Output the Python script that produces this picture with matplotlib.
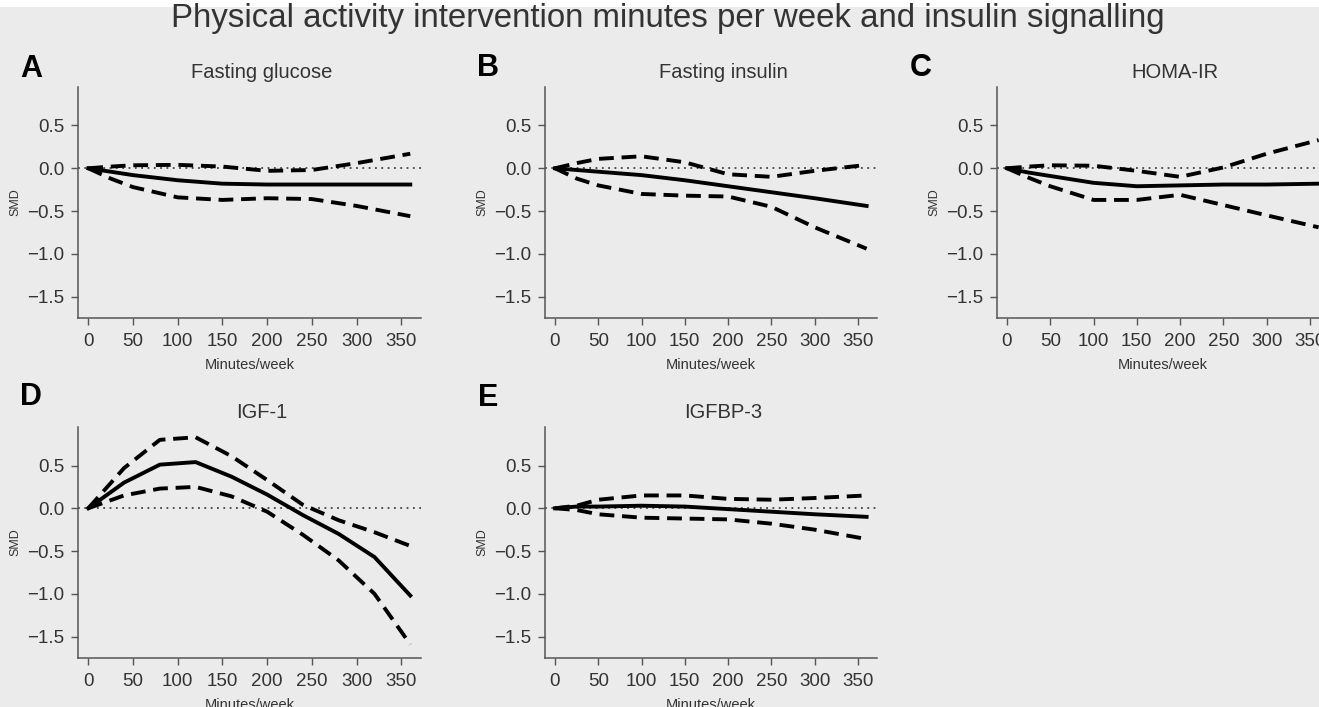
import matplotlib.pyplot as plt
from matplotlib.patches import Rectangle

plt.rcParams['font.family'] = ['Liberation Sans', 'DejaVu Sans']

# --- Data (SMD by minutes/week) ---
minutes = [0, 25, 50, 100, 150, 200, 250, 300, 360]

glucose_mean = [0, -0.04, -0.08, -0.14, -0.18, -0.19, -0.19, -0.19, -0.19]
glucose_upper = [0, 0.02, 0.035, 0.04, 0.02, -0.03, -0.02, 0.06, 0.17]
glucose_lower = [0, -0.12, -0.22, -0.34, -0.37, -0.35, -0.36, -0.44, -0.56]

insulin_mean = [0, -0.02, -0.04, -0.08, -0.14, -0.21, -0.28, -0.35, -0.44]
insulin_upper = [0, 0.06, 0.11, 0.14, 0.07, -0.07, -0.10, -0.03, 0.04]
insulin_lower = [0, -0.12, -0.20, -0.30, -0.32, -0.33, -0.45, -0.69, -0.94]

homa_mean = [0, -0.05, -0.09, -0.17, -0.21, -0.20, -0.19, -0.19, -0.18]
homa_upper = [0, 0.02, 0.035, 0.03, -0.03, -0.10, 0.01, 0.17, 0.33]
homa_lower = [0, -0.11, -0.21, -0.37, -0.37, -0.31, -0.43, -0.55, -0.69]

igf_x = [0, 40, 80, 120, 160, 200, 240, 280, 320, 360]
igf_mean = [0, 0.30, 0.51, 0.54, 0.37, 0.16, -0.08, -0.30, -0.57, -1.02]
igf_upper = [0, 0.47, 0.80, 0.83, 0.61, 0.33, 0.04, -0.14, -0.28, -0.44]
igf_lower = [0, 0.15, 0.23, 0.25, 0.14, -0.04, -0.31, -0.61, -1.00, -1.59]

igfbp_mean = [0, 0.02, 0.02, 0.03, 0.02, -0.01, -0.04, -0.07, -0.10]
igfbp_upper = [0, 0.03, 0.10, 0.15, 0.15, 0.11, 0.10, 0.12, 0.15]
igfbp_lower = [0, -0.02, -0.07, -0.11, -0.12, -0.13, -0.18, -0.25, -0.36]

panels = [
    ("A", "Fasting glucose", minutes, glucose_mean, glucose_upper, glucose_lower),
    ("B", "Fasting insulin", minutes, insulin_mean, insulin_upper, insulin_lower),
    ("C", "HOMA-IR", minutes, homa_mean, homa_upper, homa_lower),
    ("D", "IGF-1", igf_x, igf_mean, igf_upper, igf_lower),
    ("E", "IGFBP-3", minutes, igfbp_mean, igfbp_upper, igfbp_lower),
]

W, H = 1319, 707
bg = "#ebebeb"
fig = plt.figure(figsize=(W / 100, H / 100), dpi=100, facecolor=bg)
fig.patches.append(Rectangle((0, 1 - 7 / H), 1, 7 / H, transform=fig.transFigure,
                             facecolor="white", edgecolor="none"))

# axes boxes in pixels: left, top, width, height ; panel letter x, y
boxes = [(78, 87, 343, 231), (545, 87, 332, 231), (997, 87, 332, 231),
         (78, 427, 343, 231), (545, 427, 332, 231)]
letter_pos = [(20, 69), (477, 68), (910, 68), (20, 397), (478, 398)]

axcol = "#555555"
txtcol = "#333333"

for (letter, name, xs, mean, upper, lower), (l, t, w, h), (lx, ly) in zip(panels, boxes, letter_pos):
    ax = fig.add_axes([l / W, 1 - (t + h) / H, w / W, h / H])
    ax.set_facecolor(bg)
    ax.axhline(0, color="#444444", lw=1.3, ls=(0, (1, 2.5)), zorder=1)
    ax.plot(xs, upper, color="black", lw=2.8, ls=(0, (3.8, 2.0)), zorder=3)
    ax.plot(xs, lower, color="black", lw=2.8, ls=(0, (3.8, 2.0)), zorder=3)
    ax.plot(xs, mean, color="black", lw=2.8, zorder=4)

    ax.set_xlim(-11.5, 372)
    ax.set_ylim(-1.75, 0.95)
    ax.set_xticks(range(0, 351, 50))
    ax.set_yticks([0.5, 0.0, -0.5, -1.0, -1.5])
    ax.set_yticklabels(["0.5", "0.0", "\u22120.5", "\u22121.0", "\u22121.5"])
    for s in ["top", "right"]:
        ax.spines[s].set_visible(False)
    for s in ["left", "bottom"]:
        ax.spines[s].set_color(axcol)
        ax.spines[s].set_linewidth(1.1)
    ax.tick_params(direction="out", length=5, width=1, color=axcol,
                   labelsize=13.5, labelcolor=txtcol)
    ax.tick_params(axis="x", pad=6)
    ax.tick_params(axis="y", pad=5)

    ax.set_ylabel("SMD", fontsize=9, color=txtcol)
    ax.yaxis.set_label_coords(-57 / w, 0.5)
    ax.set_xlabel("Minutes/week", fontsize=10.5, color=txtcol)
    ax.xaxis.set_label_coords(0.5, -40 / h)

    ax.text(0.5 + 12 / w, 1 + 14 / h, name, transform=ax.transAxes,
            ha="center", va="center", fontsize=14.5, color=txtcol)
    fig.text(lx / W, 1 - ly / H, letter, ha="left", va="center",
             fontsize=22, fontweight="bold", color="black")

fig.text(668 / W, 1 - 19 / H,
         "Physical activity intervention minutes per week and insulin signalling",
         ha="center", va="center", fontsize=23.8, color=txtcol)

fig.savefig("out.png", dpi=100, facecolor=bg)
